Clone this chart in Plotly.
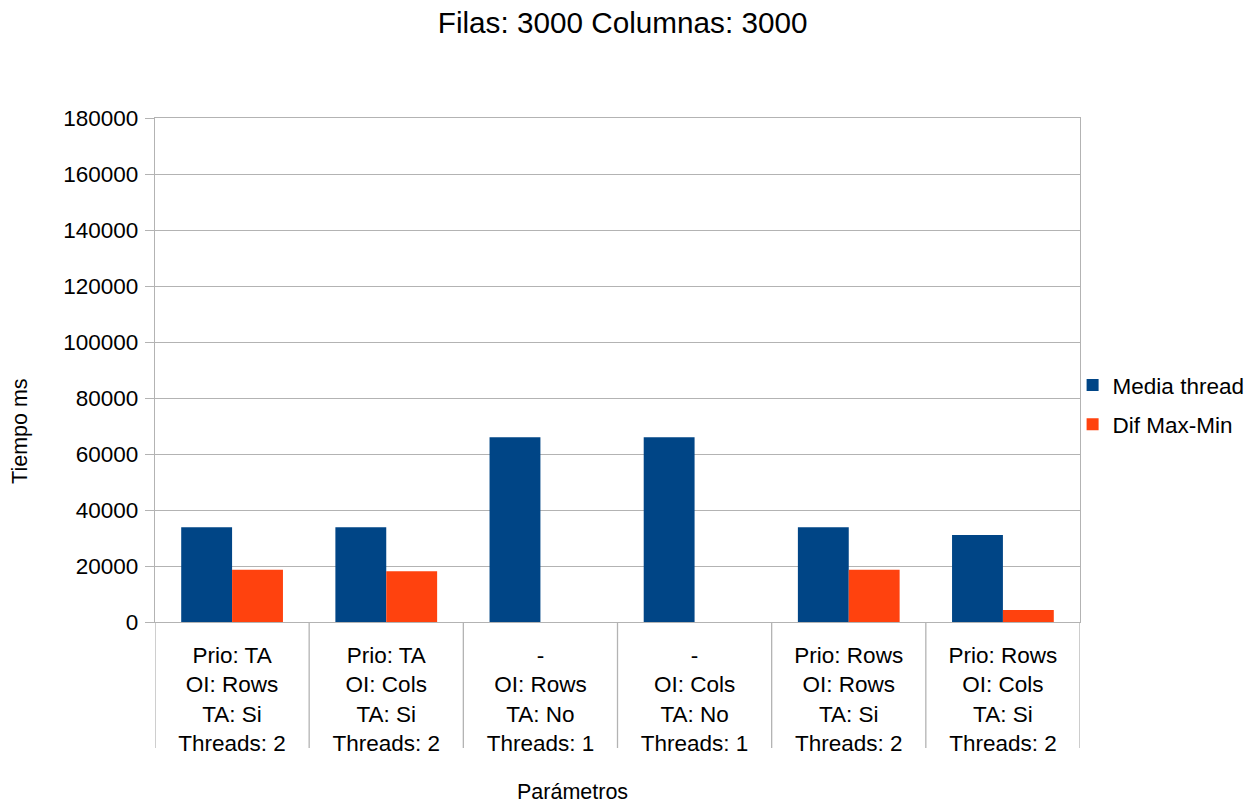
import plotly.graph_objects as go

# Parameter combinations tested (one group of bars each)
categories = [
    "Prio: TA<br>OI: Rows<br>TA: Si<br>Threads: 2",
    "Prio: TA<br>OI: Cols<br>TA: Si<br>Threads: 2",
    "-<br>OI: Rows<br>TA: No<br>Threads: 1",
    "-<br>OI: Cols<br>TA: No<br>Threads: 1",
    "Prio: Rows<br>OI: Rows<br>TA: Si<br>Threads: 2",
    "Prio: Rows<br>OI: Cols<br>TA: Si<br>Threads: 2",
]

# Times in ms
media_thread = [33800, 33800, 66000, 66000, 33800, 31100]
dif_max_min = [18700, 18100, 0, 0, 18700, 4300]

y_ticks = list(range(0, 180001, 20000))

FONT = "Liberation Sans, Arial, sans-serif"
GRID = "#b3b3b3"
FS = 22.5

fig = go.Figure()
fig.add_trace(go.Bar(x=categories, y=media_thread, name="Media thread",
                     legendgroup="media",
                     marker=dict(color="#004586", line=dict(width=0))))
fig.add_trace(go.Bar(x=categories, y=dif_max_min, name="Dif Max-Min",
                     legendgroup="dif",
                     marker=dict(color="#ff420e", line=dict(width=0))))

# Category separators extending below the axis, at group boundaries
for i in range(len(categories) + 1):
    fig.add_shape(type="line", xref="x", yref="paper",
                  x0=i - 0.5, x1=i - 0.5, y0=0, y1=-0.25,
                  line=dict(color=GRID, width=1.3))

# Axis titles
fig.add_annotation(text="Parámetros", xref="paper", yref="paper",
                   x=0.451, y=-0.337, xanchor="center", yanchor="middle",
                   showarrow=False, font=dict(family=FONT, size=FS - 1, color="#000000"))
fig.add_annotation(text="Tiempo ms", xref="paper", yref="paper",
                   x=-0.146, y=0.379, xanchor="center", yanchor="middle",
                   textangle=-90, showarrow=False,
                   font=dict(family=FONT, size=FS - 1, color="#000000"))

fig.update_layout(
    width=1254, height=805,
    margin=dict(l=155, r=174, t=118, b=183, autoexpand=False),
    paper_bgcolor="white", plot_bgcolor="white",
    font=dict(family=FONT, size=FS, color="#000000"),
    title=dict(text="Filas: 3000 Columnas: 3000", x=0.4965, xanchor="center",
               y=0.972, yanchor="middle",
               font=dict(family=FONT, size=29.7, color="#000000")),
    barmode="group", bargap=0.34, bargroupgap=0,
    showlegend=True,
    legend=dict(x=0.992, xanchor="left", y=0.431, yanchor="middle",
                font=dict(family=FONT, size=FS, color="#000000"),
                bgcolor="rgba(0,0,0,0)", tracegroupgap=7),
    xaxis=dict(
        type="category", range=[-0.5, len(categories) - 0.5],
        showgrid=False, showline=True, mirror=True, linecolor=GRID, linewidth=1.3,
        ticks="", ticklabelstandoff=13,
        tickfont=dict(family=FONT, size=FS, color="#000000"),
        automargin=False,
    ),
    yaxis=dict(
        range=[0, 180000], tickvals=y_ticks, ticktext=[str(v) for v in y_ticks],
        showgrid=True, gridcolor=GRID, gridwidth=1.3,
        showline=True, mirror=True, linecolor=GRID, linewidth=1.3,
        ticks="outside", ticklen=9, tickcolor=GRID, tickwidth=1.3,
        ticklabelstandoff=2,
        zeroline=False,
        tickfont=dict(family=FONT, size=FS, color="#000000"),
        automargin=False,
    ),
)

fig.write_html("out.html")
